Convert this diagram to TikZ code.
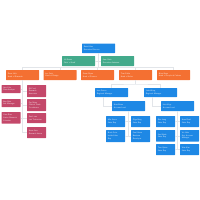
\documentclass[tikz,border=0pt]{standalone}
\usepackage{tikz}
\usetikzlibrary{positioning}
\definecolor{chartblue}{RGB}{30,136,229}
\definecolor{chartgreen}{RGB}{67,170,139}
\definecolor{chartorange}{RGB}{244,112,50}
\definecolor{chartrose}{RGB}{196,72,106}
\definecolor{linkgray}{RGB}{226,229,233}

\begin{document}
\begin{tikzpicture}[
    x=1mm, y=-1mm,
    person/.style={anchor=north west, text=white, align=left, rounded corners=0.4mm,
        font=\sffamily\fontsize{5.5}{7.5}\selectfont, inner xsep=1.8mm, inner ysep=0.6mm},
    head/.style={person, text width=29.4mm, minimum height=#1},
    head/.default=9.5mm,
    staff/.style={person, text width=15.4mm, minimum height=#1},
    staff/.default=8mm,
    link/.style={draw=linkgray, line width=0.6mm}
]
\useasboundingbox (0,0) rectangle (200,200);

% Director and office
\node[head, fill=chartblue] (root) at (82,43.5) {Ruth Kline\\Executive Director};
\node[head=10mm, fill=chartgreen] (aide1) at (62,56) {Jill Evans\\Chief of Staff};
\node[head=10mm, fill=chartgreen] (aide2) at (101,56) {Sam Ortiz\\Executive Assistant};

% Department heads
\node[head=10mm, fill=chartorange] (o1) at (6,70)    {Dana Holt\\Head of Research};
\node[head=10mm, fill=chartorange] (o2) at (43.5,70) {Lee Park\\Head of Design};
\node[head=10mm, fill=chartorange] (o3) at (81,70)   {Omar Reyes\\Head of Finance};
\node[head=10mm, fill=chartorange] (o4) at (119,70)  {Tom Fuller\\Head of Sales};
\node[head=10mm, fill=chartorange] (o5) at (157,70)  {Nina Shaw\\Head of People \& Culture};

% Research team
\node[staff, fill=chartrose] (m1) at (1.5,85)  {Ava Cole\\Data Analyst};
\node[staff, fill=chartrose] (m2) at (1.5,99)  {Ben Ruiz\\Lab Manager};
\node[staff=11.5mm, fill=chartrose] (m3) at (1.5,112) {Cara Diaz\\Senior Research\\Scientist};
\node[staff=12mm, fill=chartrose] (m4) at (27,85)  {Eli Ford\\Research\\Associate};
\node[staff=12mm, fill=chartrose] (m5) at (27,99)  {Fay Moss\\Clinical Trials\\Coordinator};
\node[staff=10mm, fill=chartrose] (m6) at (27,113) {Gus Lowe\\Lab Technician};
\node[staff=11mm, fill=chartrose] (m7) at (27,127) {Hana Sato\\Research Intern};

% Sales managers and leads
\node[head=9mm, fill=chartblue] (b1) at (95,88)   {Ivan Petrov\\Regional Manager};
\node[head=9mm, fill=chartblue] (b2) at (144,88)  {Jade Wong\\Regional Manager};
\node[head=10mm, fill=chartblue] (c1) at (112,101) {Kurt Blum\\Account Lead};
\node[head=10mm, fill=chartblue] (c2) at (161,101) {Lina Vogt\\Account Lead};

% Sales reps
\node[staff=11mm, fill=chartblue] (a1) at (106,116) {Mia Stone\\Sales Rep};
\node[staff=12mm, fill=chartblue] (a2) at (106,130) {Noah Price\\Inside Sales\\Rep};
\node[staff=11mm, fill=chartblue] (a3) at (131,116) {Olga Berg\\Sales Rep};
\node[staff=12mm, fill=chartblue] (a4) at (131,130) {Paul Grant\\Business\\Developer};
\node[staff=11mm, fill=chartblue] (d1) at (156,116) {Rita Lang\\Sales Rep};
\node[staff=11.5mm, fill=chartblue] (d2) at (156,130) {Saul Nash\\Sales Rep};
\node[staff=11mm, fill=chartblue] (d3) at (156,144) {Tara Quinn\\Sales Rep};
\node[staff=11mm, fill=chartblue] (d4) at (180,116) {Uma Reed\\Sales Rep};
\node[staff=11.5mm, fill=chartblue] (d5) at (180,130) {Vic Hale\\Key Account\\Manager};
\node[staff=11mm, fill=chartblue] (d6) at (180,144) {Wes Kim\\Sales Rep};

% Links from the director
\coordinate (bus) at (root.south |- 0,67.5);
\draw[link] (root) -- (bus);
\draw[link] (aide1.east) -- (aide1.east -| root.south);
\draw[link] (aide2.west) -- (aide2.west -| root.south);
\draw[link] (o1.north) |- (bus) -| (o5.north);
\foreach \n in {o2,o3,o4}
    \draw[link] (\n.north) -- (\n.north |- bus);

% Links in research
\draw[link] (o1.south) -- (o1.south |- m7.west);
\foreach \n in {m1,m2,m3}
    \draw[link] (\n.east) -- (\n.east -| o1.south);
\foreach \n in {m4,m5,m6,m7}
    \draw[link] (\n.west) -- (\n.west -| o1.south);

% Links in sales
\coordinate (sbus) at (o4.south |- 0,84);
\draw[link] (o4) -- (sbus);
\draw[link] (b1.north) |- (sbus) -| (b2.north);
\draw[link] ([xshift=8mm]b1.south west) |- (c1.west);
\draw[link] ([xshift=8mm]b2.south west) |- (c2.west);
\draw[link] (c1.south) -- (c1.south |- a4.west);
\foreach \n in {a1,a2}
    \draw[link] (\n.east) -- (\n.east -| c1.south);
\foreach \n in {a3,a4}
    \draw[link] (\n.west) -- (\n.west -| c1.south);
\draw[link] (c2.south) -- (c2.south |- d6.west);
\foreach \n in {d1,d2,d3}
    \draw[link] (\n.east) -- (\n.east -| c2.south);
\foreach \n in {d4,d5,d6}
    \draw[link] (\n.west) -- (\n.west -| c2.south);
\end{tikzpicture}
\end{document}
